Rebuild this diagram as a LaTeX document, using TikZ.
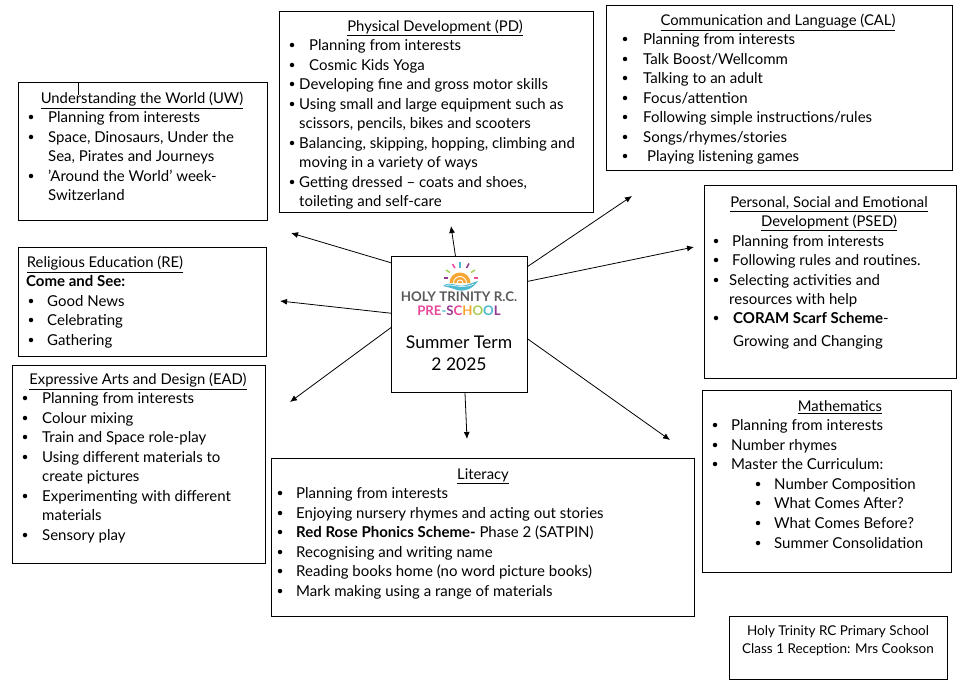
\documentclass[tikz,border=0pt]{standalone}
\usepackage{fontspec}
\setmainfont{Lato}
\usetikzlibrary{arrows.meta}
\definecolor{logogrey}{HTML}{5A5A5C}
\definecolor{logopink}{HTML}{E8489A}
\definecolor{logoorange}{HTML}{F7A530}
\definecolor{logoteal}{HTML}{4DB8CF}
\definecolor{logopurple}{HTML}{93388F}
\definecolor{logogreen}{HTML}{A9CF5A}
\tikzset{
  box/.style={draw, line width=1pt, anchor=north west, inner sep=0pt, outer sep=0pt},
  txt/.style={anchor=west, inner sep=0pt, text height=14.5pt, text depth=3pt, font=\fontsize{15}{16}\selectfont},
  title/.style={txt, anchor=center, font=\fontsize{14.8}{16}\selectfont},
  foot/.style={txt, anchor=center, font=\fontsize{13.5}{16}\selectfont},
  dot/.style={circle, fill, inner sep=0pt, minimum size=4.5pt},
  arw/.style={line width=0.8pt, -{Latex[length=7pt,width=6pt]}},
  ray/.style={line width=1.5pt}
}
\begin{document}
\begin{tikzpicture}[x=1pt,y=-1pt]
  \useasboundingbox (0,0) rectangle (958,687);
  % boxes
  \node [box, minimum width=249pt, minimum height=137pt] (uw)   at (18,83)   {};
  \node [box, minimum width=314pt, minimum height=201pt] (pd)   at (279,12)  {};
  \node [box, minimum width=346pt, minimum height=165pt] (cal)  at (606,6)   {};
  \node [box, minimum width=252pt, minimum height=192pt] (psed) at (704,186) {};
  \node [box, minimum width=248pt, minimum height=109pt] (re)   at (18,247)  {};
  \node [box, minimum width=253pt, minimum height=198pt] (ead)  at (12,365)  {};
  \node [box, minimum width=136pt, minimum height=136pt] (term) at (391,256) {};
  \node [box, minimum width=423pt, minimum height=158pt] (lit)  at (271,458) {};
  \node [box, minimum width=249pt, minimum height=182pt] (mat)  at (702,390) {};
  \node [box, minimum width=218pt, minimum height=63pt]  (cls)  at (729,616) {};
  \coordinate (tick) at (78,83);
  \draw (tick) -- +(0,12);
  % arrows
  \coordinate (toPD)   at (451,226);
  \coordinate (toCAL)  at (632,196);
  \coordinate (toPSED) at (694,247);
  \coordinate (toMAT)  at (670,440);
  \coordinate (toLIT)  at (467,439);
  \coordinate (toEAD)  at (290,402);
  \coordinate (toRE)   at (280,301);
  \coordinate (toUW)   at (291,233);
  \draw [arw] (term.93.4)  -- (toPD);
  \draw [arw] (term.40)    -- (toCAL);
  \draw [arw] (term.32.9)  -- (toPSED);
  \draw [arw] (term.-12.4) -- (toMAT);
  \draw [arw] (term.-85)   -- (toLIT);
  \draw [arw] (term.183.4) -- (toEAD);
  \draw [arw] (term.171.6) -- (toRE);
  \draw [arw] (term.138.6) -- (toUW);
  % logo
  \draw [ray, logopink]   (452.5,264) -- (455,268);
  \draw [ray, logoteal]   (460,262) -- (460,267.5);
  \draw [ray, logopurple] (469,263.5) -- (466.5,268);
  \draw [ray, logogreen]  (475,270) -- (471,272.5);
  \draw [ray, logopink]   (478,278) -- (474,278);
  \draw [ray, logogreen]  (446,270) -- (450,272.5);
  \draw [ray, logopurple] (444,278) -- (448,278);
  \fill [logoorange] (449.5,283) arc [start angle=180, end angle=360, radius=10.5] -- cycle;
  \draw [white, line width=0.9pt] (453.5,283) arc [start angle=180, end angle=360, radius=6.5];
  \draw [white, line width=0.9pt] (457,283) arc [start angle=180, end angle=360, radius=3];
  \fill [logoteal] (443,286) .. controls (450,280) and (458,288) .. (466,285)
    .. controls (470,284) and (474,282) .. (478,281)
    .. controls (473,289) and (464,292) .. (457,290) .. controls (452,288) and (447,287) .. (443,286) -- cycle;
  \draw [white, line width=0.6pt] (446,285.5) .. controls (452,283) and (460,290) .. (474,284);
  \node [anchor=center, inner sep=0pt, text=logogrey, font=\fontsize{13.3}{14}\bfseries\selectfont] (logoname) at (459,297) {HOLY TRINITY R.C.};
  \node [anchor=center, inner sep=0pt, font=\fontsize{13.2}{14}\bfseries\selectfont] (logosub) at (459,311)
    {\textcolor{logopink}{PRE}\textcolor{logoteal}{-}\textcolor{logopurple}{S}\textcolor{logopink}{C}\textcolor{logoorange}{H}\textcolor{logogreen}{O}\textcolor{logoteal}{O}\textcolor{logopurple}{L}};
  \node [title, font=\fontsize{17.5}{18}\selectfont] (termA) at (459,343) {Summer Term};
  \node [title, font=\fontsize{17.5}{18}\selectfont] (termB) at (459,365) {2 2025};
  % titles
  \node [title] (uwT)    at (142,98)  {\underline{Understanding the World (UW)}};
  \node [title] (pdT)    at (435,26)  {\underline{Physical Development (PD)}};
  \node [title] (calT)   at (778,20)  {\underline{Communication and Language (CAL)}};
  \node [title] (psedT)  at (829,202) {\underline{Personal, Social and Emotional}};
  \node [title] (psedU)  at (829,221) {\underline{Development (PSED)}};
  \node [title] (reT)    at (105,262) {\underline{Religious Education (RE)}};
  \node [title] (eadT)   at (138,379) {\underline{Expressive Arts and Design (EAD)}};
  \node [title] (litT)   at (483,474) {\underline{Literacy}};
  \node [title] (matT)   at (840,406) {\underline{Mathematics}};
  \node [foot]  (clsA)   at (838,630) {Holy Trinity RC Primary School};
  \node [foot]  (clsB)   at (838,648) {Class 1 Reception: Mrs Cookson};
  % understanding the world
  \foreach \n/\y/\t in {1/117/Planning from interests, 2/137/{Space, Dinosaurs, Under the},
      3/156/{Sea, Pirates and Journeys}, 4/176/{'Around the World' week-}, 5/195/Switzerland}
    \node [txt] (uw\n) at (48,\y) {\t};
  \foreach \n/\y in {1/117, 2/137, 4/176}
    \node [dot] (uwb\n) at (31,\y) {};
  % physical development
  \node [txt] (pd1) at (309,45) {Planning from interests};
  \node [txt] (pd2) at (309,65) {Cosmic Kids Yoga};
  \foreach \n/\y/\t in {3/84/Developing fine and gross motor skills, 4/104/Using small and large equipment such as,
      5/123/{scissors, pencils, bikes and scooters}, 6/143/{Balancing, skipping, hopping, climbing and},
      7/162/moving in a variety of ways, 8/182/{Getting dressed – coats and shoes,},
      9/201/toileting and self-care}
    \node [txt] (pd\n) at (299,\y) {\t};
  \foreach \n/\y in {1/45, 2/65, 3/84, 4/104, 6/143, 8/182}
    \node [dot] (pdb\n) at (292,\y) {};
  % communication and language
  \foreach \n/\y/\t in {1/39/Planning from interests, 2/59/{Talk Boost/Wellcomm}, 3/78/Talking to an adult,
      4/98/{Focus/attention}, 5/117/{Following simple instructions/rules}, 6/137/{Songs/rhymes/stories}}
    \node [txt] (cal\n) at (643,\y) {\t};
  \node [txt] (cal7) at (647,156) {Playing listening games};
  \foreach \n/\y in {1/39, 2/59, 3/78, 4/98, 5/117, 6/137, 7/156}
    \node [dot] (calb\n) at (625,\y) {};
  % personal social emotional
  \node [txt] (psed1) at (732,241) {Planning from interests};
  \node [txt] (psed2) at (732,260) {Following rules and routines.};
  \node [txt] (psed3) at (729,280) {Selecting activities and};
  \node [txt] (psed4) at (729,299) {resources with help};
  \node [txt] (psed5) at (733,318) {\textbf{CORAM Scarf Scheme}-};
  \node [txt] (psed6) at (733,341) {Growing and Changing};
  \foreach \n/\y in {1/241, 2/260, 3/280, 5/318}
    \node [dot] (psedb\n) at (716,\y) {};
  % religious education
  \node [txt] (re0) at (26,281) {\textbf{Come and See:}};
  \foreach \n/\y/\t in {1/301/Good News, 2/320/Celebrating, 3/340/Gathering}{
    \node [txt] (re\n) at (47,\y) {\t};
    \node [dot] (reb\n) at (31,\y) {};
  }
  % expressive arts
  \foreach \n/\y/\t in {1/398/Planning from interests, 2/418/Colour mixing, 3/437/Train and Space role-play,
      4/457/Using different materials to, 5/476/create pictures, 6/496/Experimenting with different,
      7/515/materials, 8/535/Sensory play}
    \node [txt] (ead\n) at (42,\y) {\t};
  \foreach \n/\y in {1/398, 2/418, 3/437, 4/457, 6/496, 8/535}
    \node [dot] (eadb\n) at (25,\y) {};
  % literacy
  \foreach \n/\y/\t in {1/493/Planning from interests, 2/513/Enjoying nursery rhymes and acting out stories,
      3/532/{\textbf{Red Rose Phonics Scheme-} Phase 2 (SATPIN)}, 4/552/Recognising and writing name,
      5/571/Reading books home (no word picture books), 6/591/Mark making using a range of materials}{
    \node [txt] (lit\n) at (296,\y) {\t};
    \node [dot] (litb\n) at (280,\y) {};
  }
  % mathematics
  \foreach \n/\y/\t in {1/425/Planning from interests, 2/445/Number rhymes, 3/464/Master the Curriculum:}{
    \node [txt] (mat\n) at (731,\y) {\t};
    \node [dot] (matb\n) at (715,\y) {};
  }
  \foreach \n/\y/\t in {4/484/Number Composition, 5/503/What Comes After?, 6/523/What Comes Before?, 7/543/Summer Consolidation}{
    \node [txt] (mat\n) at (774,\y) {\t};
    \node [dot] (matb\n) at (758,\y) {};
  }
\end{tikzpicture}
\end{document}
